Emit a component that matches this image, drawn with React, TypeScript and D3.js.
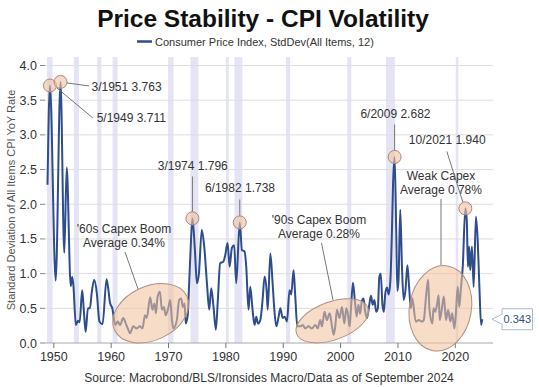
import React, { useEffect, useRef } from "react";
import * as d3 from "d3";

// CPI YoY rate, rolling 12m standard deviation
const cpiDates = [
  1948.9, 1949.33, 1950.33, 1951.17, 1951.83, 1952.25, 1952.95, 1953.2, 1953.4, 1953.85,
  1954.2, 1954.5, 1954.95, 1955.25, 1955.55, 1955.95, 1956.3, 1956.6, 1957.05, 1957.5,
  1957.95, 1958.5, 1959.2, 1959.5, 1959.8, 1960.2, 1960.7, 1961.15, 1961.55, 1962.1,
  1962.55, 1963.0, 1963.3, 1963.85, 1964.45, 1965.0, 1965.45, 1965.9, 1966.2, 1966.8,
  1967.2, 1967.55, 1967.8, 1968.1, 1968.5, 1968.85, 1969.2, 1969.5, 1970.0, 1970.3,
  1970.6, 1970.85, 1971.45, 1971.85, 1972.2, 1972.5, 1972.8, 1973.0, 1973.35, 1973.6,
  1973.85, 1974.17, 1974.6, 1974.95, 1975.3, 1975.8, 1976.25, 1976.7, 1977.1, 1977.45,
  1977.85, 1978.25, 1978.6, 1979.0, 1979.55, 1979.85, 1980.3, 1980.65, 1981.05, 1981.45,
  1981.8, 1982.42, 1982.8, 1983.25, 1983.55, 1983.95, 1984.25, 1984.65, 1985.0, 1985.3,
  1985.6, 1986.0, 1986.4, 1986.75, 1987.1, 1987.3, 1987.75, 1988.15, 1988.45, 1988.8,
  1989.2, 1989.5, 1989.9, 1990.25, 1990.65, 1991.1, 1991.4, 1991.8, 1992.1, 1992.45,
  1992.95, 1993.4, 1993.85, 1994.4, 1995.0, 1995.6, 1996.0, 1996.45, 1996.75, 1997.2,
  1997.6, 1998.1, 1998.5, 1998.8, 1999.07, 1999.37, 1999.8, 2000.25, 2000.65, 2001.0,
  2001.3, 2001.57, 2001.8, 2002.16, 2002.5, 2002.8, 2003.1, 2003.4, 2003.7, 2004.0,
  2004.3, 2004.6, 2005.0, 2005.3, 2005.6, 2005.9, 2006.2, 2006.5, 2006.75, 2007.0,
  2007.3, 2007.55, 2007.8, 2008.1, 2008.4, 2008.7, 2008.95, 2009.15, 2009.42, 2009.7,
  2009.9, 2010.1, 2010.4, 2010.7, 2011.0, 2011.3, 2011.65, 2011.95, 2012.25, 2012.5,
  2013.1, 2013.65, 2014.2, 2014.5, 2014.9, 2015.26, 2015.5, 2016.0, 2016.2, 2016.5,
  2016.8, 2017.1, 2017.28, 2017.7, 2018.0, 2018.37, 2018.74, 2019.14, 2019.45, 2019.84,
  2020.1, 2020.42, 2020.7, 2021.0, 2021.3, 2021.75, 2022.0, 2022.2, 2022.4, 2022.6,
  2022.9, 2023.2, 2023.6, 2023.9, 2024.2, 2024.5, 2024.7,
];
const cpiStd = [
  2.28, 3.711, 0.9, 3.763, 1.3, 2.53, 0.82, 0.95, 0.85, 0.26,
  0.32, 0.3, 0.76, 0.45, 0.16, 0.5, 0.5, 0.72, 0.91, 0.72,
  0.31, 0.27, 0.92, 0.78, 0.58, 0.5, 0.26, 0.31, 0.26, 0.36,
  0.28, 0.19, 0.14, 0.24, 0.21, 0.24, 0.21, 0.4, 0.36, 0.66,
  0.48, 0.57, 0.43, 0.67, 0.74, 0.48, 0.52, 0.4, 0.52, 0.62,
  0.33, 0.21, 0.33, 0.62, 0.64, 0.52, 0.57, 0.28, 0.4, 0.86,
  1.35, 1.796, 1.34, 0.86, 1.0, 1.63, 1.37, 0.86, 0.48, 0.79,
  0.52, 0.19, 0.62, 1.15, 1.17, 1.25, 1.44, 1.1, 1.37, 1.41,
  0.86, 1.738, 1.34, 1.32, 1.1, 0.48, 0.81, 0.48, 0.26, 0.38,
  0.28, 0.33, 0.62, 0.96, 0.76, 0.48, 1.29, 0.86, 0.48, 0.24,
  0.38, 0.5, 0.36, 0.38, 0.31, 0.76, 0.7, 1.05, 0.67, 0.24,
  0.24, 0.26, 0.21, 0.24, 0.21, 0.26, 0.21, 0.33, 0.24, 0.45,
  0.33, 0.43, 0.24, 0.12, 0.24, 0.48, 0.36, 0.52, 0.28, 0.5,
  0.4, 0.24, 0.48, 0.87, 0.6, 0.38, 0.55, 0.42, 0.6, 0.64,
  0.45, 0.36, 0.55, 0.68, 0.55, 0.62, 0.45, 0.5, 0.95, 1.0,
  0.55, 0.45, 0.72, 0.8, 0.7, 0.93, 1.6, 2.3, 2.682, 1.6,
  0.75, 0.9, 1.92, 1.1, 0.62, 0.75, 1.12, 0.8, 0.5, 0.65,
  0.31, 0.33, 0.31, 0.33, 0.67, 0.91, 0.48, 0.28, 0.5, 0.45,
  0.55, 0.69, 0.33, 0.52, 0.67, 0.33, 0.48, 0.31, 0.43, 0.21,
  0.43, 0.81, 0.52, 0.81, 1.1, 1.94, 1.78, 1.1, 1.39, 1.05,
  1.39, 0.81, 1.82, 1.49, 0.81, 0.26, 0.343,
];

// NBER recessions
const recessionStart = [1948.83, 1953.5, 1957.58, 1960.25, 1969.92, 1973.83, 1980.0, 1981.5, 1990.5, 2001.17, 2007.92, 2020.08];
const recessionEnd = [1949.79, 1954.38, 1958.29, 1961.12, 1970.87, 1975.21, 1980.5, 1982.87, 1991.21, 2001.87, 2009.46, 2020.29];

const peakDates = [1949.33, 1951.17, 1974.17, 1982.42, 2009.42, 2021.75];
const peakValues = [3.711, 3.763, 1.796, 1.738, 2.682, 1.94];
const peakLabels = ["5/1949 3.711", "3/1951 3.763", "3/1974 1.796", "6/1982 1.738", "6/2009 2.682", "10/2021 1.940"];

const capexTitles = ["'60s Capex Boom", "'90s Capex Boom", "Weak Capex"];
const capexAverages = ["Average 0.34%", "Average 0.28%", "Average 0.78%"];

const xTicks = [1950, 1960, 1970, 1980, 1990, 2000, 2010, 2020];
const yTicks = [0, 0.5, 1, 1.5, 2, 2.5, 3, 3.5, 4];

const FONT = "'Liberation Sans', Arial, sans-serif";

const App = () => {
  const svgRef = useRef(null);

  useEffect(() => {
    const width = 539;
    const height = 387;
    const plot = { left: 45, right: 493, top: 57, bottom: 343 };

    const x = d3.scaleLinear().domain([1950, 2020]).range([53.8, 455.3]);
    const y = d3.scaleLinear().domain([0, 4]).range([343, 65.5]);

    const svg = d3.select(svgRef.current);
    svg.selectAll("*").remove();
    svg.attr("width", width).attr("height", height).style("font-family", FONT);

    svg.append("rect").attr("width", width).attr("height", height).attr("fill", "#fff");

    // recession bands
    svg
      .selectAll(".rec")
      .data(recessionStart)
      .enter()
      .append("rect")
      .attr("x", (d) => x(d))
      .attr("width", (d, i) => Math.max(2.5, x(recessionEnd[i]) - x(d)))
      .attr("y", plot.top)
      .attr("height", plot.bottom - plot.top)
      .attr("fill", "#e4e4f4");

    // grid
    svg
      .selectAll(".grid")
      .data(yTicks.slice(1))
      .enter()
      .append("line")
      .attr("x1", plot.left)
      .attr("x2", plot.right)
      .attr("y1", (d) => y(d))
      .attr("y2", (d) => y(d))
      .attr("stroke", "#dedede")
      .attr("stroke-width", 1);

    // y ticks + labels
    yTicks.forEach((t) => {
      svg.append("line").attr("x1", 40).attr("x2", 45).attr("y1", y(t)).attr("y2", y(t)).attr("stroke", "#888");
      svg
        .append("text")
        .attr("x", 37)
        .attr("y", y(t) + 4.5)
        .attr("text-anchor", "end")
        .style("font-size", "12.5px")
        .attr("fill", "#333")
        .text(t.toFixed(1));
    });

    // x axis
    svg.append("line").attr("x1", plot.left).attr("x2", plot.right).attr("y1", 343).attr("y2", 343).attr("stroke", "#a8a8a8");
    xTicks.forEach((t) => {
      svg.append("line").attr("x1", x(t)).attr("x2", x(t)).attr("y1", 343).attr("y2", 348).attr("stroke", "#777");
      svg
        .append("text")
        .attr("x", x(t))
        .attr("y", 361)
        .attr("text-anchor", "middle")
        .style("font-size", "12.5px")
        .attr("fill", "#333")
        .text(t);
    });

    // main line
    const series = cpiDates.map((d, i) => ({ date: d, value: cpiStd[i] }));
    const line = d3
      .line()
      .x((d) => x(d.date))
      .y((d) => y(d.value))
      .curve(d3.curveMonotoneX);
    svg
      .append("path")
      .datum(series)
      .attr("d", line)
      .attr("fill", "none")
      .attr("stroke", "#2f4d8c")
      .attr("stroke-width", 2)
      .attr("stroke-linejoin", "round");

    // capex ellipses (center in data units, sizes in px)
    const ellipses = [
      { date: 1966.9, value: 0.43, rx: 40, ry: 27, rot: -25 },
      { date: 1998.55, value: 0.32, rx: 38, ry: 19, rot: -20 },
      { date: 2017.4, value: 0.5, rx: 31, ry: 43, rot: 10 },
    ];
    ellipses.forEach((e) => {
      const cx = x(e.date);
      const cy = y(e.value);
      svg
        .append("ellipse")
        .attr("cx", 0)
        .attr("cy", 0)
        .attr("rx", e.rx)
        .attr("ry", e.ry)
        .attr("transform", `translate(${cx},${cy}) rotate(${e.rot})`)
        .attr("fill", "#f2c2a0")
        .attr("fill-opacity", 0.58)
        .attr("stroke", "#b08f80")
        .attr("stroke-width", 1);
    });

    // capex labels + leaders
    const capexLayout = [
      { cx: 124, y1: 233, lx1: 125, ly1: 252, lx2: 138, ly2: 289 },
      { cx: 319, y1: 224, lx1: 321.5, ly1: 243, lx2: 333, ly2: 300 },
      { cx: 441, y1: 180, lx1: 441, ly1: 199, lx2: 441, ly2: 265 },
    ];
    capexLayout.forEach((l, i) => {
      svg.append("line").attr("x1", l.lx1).attr("y1", l.ly1).attr("x2", l.lx2).attr("y2", l.ly2).attr("stroke", "#777").attr("stroke-width", 1);
      const t = svg
        .append("text")
        .attr("text-anchor", "middle")
        .style("font-size", "12px")
        .attr("fill", "#333");
      t.append("tspan").attr("x", l.cx).attr("y", l.y1).text(capexTitles[i]);
      t.append("tspan").attr("x", l.cx).attr("y", l.y1 + 13.5).text(capexAverages[i]);
    });

    // peak circles + labels (offsets from circle centre)
    const peakLayout = [
      { tx: 46.7, ty: 36.5, l: [7, 2.5, 43, 32.5] },
      { tx: 31, ty: 9, l: [6.5, 1, 28.5, 4] },
      { tx: -34.7, ty: -48.4, l: [0, -42, 0, -6.5] },
      { tx: -34.8, ty: -30.4, l: [0, -23, 0, -6.5] },
      { tx: -34.2, ty: -38.9, l: [0, -32.5, 0, -6.5] },
      { tx: -56.5, ty: -64.4, l: [-18.5, -57, -2.5, -6.3] },
    ];
    peakDates.forEach((d, i) => {
      const cx = x(d);
      const cy = y(peakValues[i]);
      const p = peakLayout[i];
      svg
        .append("line")
        .attr("x1", cx + p.l[0])
        .attr("y1", cy + p.l[1])
        .attr("x2", cx + p.l[2])
        .attr("y2", cy + p.l[3])
        .attr("stroke", "#777")
        .attr("stroke-width", 1);
      svg
        .append("circle")
        .attr("cx", cx)
        .attr("cy", cy)
        .attr("r", 6.5)
        .attr("fill", "#f2c2a0")
        .attr("fill-opacity", 0.6)
        .attr("stroke", "#a88a80")
        .attr("stroke-width", 1);
      svg
        .append("text")
        .attr("x", cx + p.tx)
        .attr("y", cy + p.ty)
        .style("font-size", "12px")
        .attr("fill", "#333")
        .text(peakLabels[i]);
    });

    // last value callout
    const last = cpiStd[cpiStd.length - 1];
    const ly = y(last);
    const bx = 502;
    const bw = 30.5;
    const bh = 21;
    svg
      .append("path")
      .attr(
        "d",
        `M${bx},${ly - bh / 2} H${bx + bw} V${ly + bh / 2} H${bx} V${ly + 5} L${bx - 10},${ly} L${bx},${ly - 5} Z`
      )
      .attr("fill", "#fff")
      .attr("stroke", "#a9bad6")
      .attr("stroke-width", 1);
    svg
      .append("text")
      .attr("x", bx + bw / 2)
      .attr("y", ly + 4)
      .attr("text-anchor", "middle")
      .style("font-size", "11px")
      .attr("fill", "#34507f")
      .text(last.toFixed(3));

    // title + legend
    svg
      .append("text")
      .attr("x", 263)
      .attr("y", 27)
      .attr("text-anchor", "middle")
      .style("font-size", "24.5px")
      .style("font-weight", "bold")
      .attr("fill", "#111")
      .text("Price Stability - CPI Volatility");
    svg.append("line").attr("x1", 137).attr("x2", 152).attr("y1", 41.5).attr("y2", 41.5).attr("stroke", "#2f4d8c").attr("stroke-width", 2.5);
    svg
      .append("text")
      .attr("x", 155)
      .attr("y", 45.5)
      .style("font-size", "11px")
      .attr("fill", "#333")
      .text("Consumer Price Index, StdDev(All Items, 12)");

    // y axis title
    svg
      .append("text")
      .attr("transform", "translate(15,200) rotate(-90)")
      .attr("text-anchor", "middle")
      .style("font-size", "11px")
      .attr("fill", "#555")
      .text("Standard Deviation of All Items CPI YoY Rate");

    // source
    svg
      .append("text")
      .attr("x", 269)
      .attr("y", 382)
      .attr("text-anchor", "middle")
      .style("font-size", "12px")
      .attr("fill", "#333")
      .text("Source: Macrobond/BLS/Ironsides Macro/Data as of September 2024");
  }, []);

  return (
    <svg ref={svgRef} width="539" height="387" style={{ position: "absolute", left: 0, top: 0 }}></svg>
  );
};

export default App;
